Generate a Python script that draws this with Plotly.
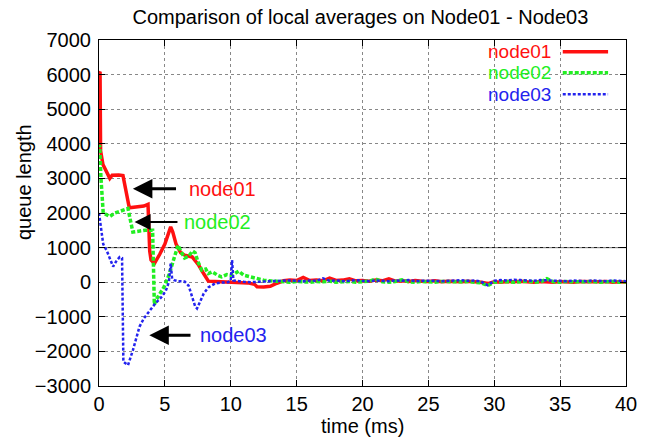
import plotly.graph_objects as go

# ---- data: local queue-length averages (time in ms) ----
node01_t = [0.0, 0.08, 0.12, 0.3, 0.82, 1.0, 1.5, 1.82, 2.3, 2.8, 3.4, 3.72, 3.85, 3.95,
            4.2, 4.6, 5.0, 5.44, 5.6, 5.85, 6.2, 6.5, 7.07, 7.3, 7.57, 7.94, 8.3, 8.8,
            9.3, 9.8, 10.3, 10.8, 11.3, 11.8, 12.0]
node01_q = [6050, 6080, 3800, 3400, 3000, 3090, 3100, 3080, 2150, 2180, 2200, 2250, 900, 640,
            540, 800, 1100, 1600, 1450, 1100, 850, 780, 730, 620, 490, 250, 30, 20,
            10, 0, 10, 0, -20, -60, -130]

node02_t = [0.0, 0.05, 0.15, 0.32, 0.82, 1.2, 1.6, 2.0, 2.2, 2.57, 3.0, 3.5, 4.07, 4.1,
            4.2, 4.32, 4.94, 5.3, 5.7, 6.0, 6.2, 6.5, 6.8, 7.1, 7.3, 7.5, 7.8, 8.1,
            8.3, 8.6, 9.0, 9.3, 9.7, 10.0, 10.3, 10.6, 11.0, 11.5, 11.9, 12.3]
node02_q = [3900, 3960, 3000, 2000, 1900, 2000, 2050, 2100, 2130, 1450, 1480, 1500, 1500, 800,
            -650, -520, -135, 200, 700, 1070, 900, 700, 750, 900, 850, 600, 350, 380,
            250, 300, 200, 155, 220, 200, 250, 320, 200, 150, 100, 60]

node03_t = [0.0, 0.05, 0.15, 0.32, 0.6, 0.9, 1.07, 1.3, 1.57, 1.75, 1.85, 2.2, 2.57, 3.07,
            3.4, 3.7, 4.0, 4.3, 4.7, 5.07, 5.3, 5.44, 5.55, 5.7, 6.0, 6.5, 6.8, 7.07,
            7.3, 7.44, 7.7, 7.95, 8.3, 8.8, 9.3, 9.8, 10.0, 10.1, 10.2, 10.6, 11.0, 11.5, 12.0]
node03_q = [2000, 1850, 1500, 1100, 900, 600, 450, 600, 730, 700, -2300, -2400, -1970, -1290,
            -1050, -900, -750, -600, -450, -250, 0, 540, 100, 60, 30, 20, -100, -424,
            -700, -760, -550, -327, -150, -40, -10, 0, 50, 640, 50, 20, 10, 0, 20]

# steady-state samples shared by all three nodes
tail_t = [12.5, 13.0, 13.5, 14.0, 14.5, 15.0, 15.5, 16.0, 16.5, 17.0, 17.5, 18.0, 18.5, 19.0,
          19.5, 20.0, 20.5, 21.0, 21.5, 22.0, 22.5, 23.0, 23.5, 24.0, 24.5, 25.0, 25.5, 26.0,
          26.5, 27.0, 27.5, 28.0, 28.5, 29.0, 29.5, 30.0, 30.5, 31.0, 31.5, 32.0, 32.5, 33.0,
          33.5, 34.0, 34.5, 35.0, 35.5, 36.0, 36.5, 37.0, 37.5, 38.0, 38.5, 39.0, 39.5, 40.0]
node01_tail = [-140, -120, -30, 40, 60, 50, 140, 50, 60, 40, 120, 50, 60, 100,
               40, 50, 30, 60, 40, 100, 30, 40, 20, 50, 30, 20, 40, 10,
               30, 20, 10, 30, 20, 0, -40, 10, 0, 20, 10, 30, 10, 0,
               20, 10, 0, 20, 10, 0, 20, 10, 0, 10, 20, 0, 10, 0]
node02_tail = [60, 40, 20, 10, 0, 20, 10, 0, 20, 10, 30, 0, 10, 20,
               0, 10, 30, 90, 10, 0, 20, 70, 10, 0, 20, 10, 0, 20,
               10, 0, 10, 20, 0, -20, -100, 0, 10, 20, 0, 10, 30, 10,
               0, 100, 10, 0, 20, 10, 0, 10, 20, 0, 10, 20, 0, 10]
node03_tail = [20, 30, 40, 30, 50, 40, 30, 50, 40, 110, 40, 50, 30, 40,
               60, 40, 30, 50, 40, 30, 50, 40, 60, 30, 40, 50, 40, 30,
               40, 50, 60, 40, 50, 20, -90, 40, 60, 50, 70, 60, 50, 40,
               60, 50, 40, 50, 30, 50, 40, 30, 50, 40, 30, 50, 40, 30]

series_names = ["node01", "node02", "node03"]
series_colors = ["#ff1010", "#22ee22", "#2323ee"]
threshold_q = 1000

x_ticks = [0, 5, 10, 15, 20, 25, 30, 35, 40]
y_ticks = [-3000, -2000, -1000, 0, 1000, 2000, 3000, 4000, 5000, 6000, 7000]

FONT = "Liberation Sans, Arial, sans-serif"
FS = 20
KEY_FS = 19

fig = go.Figure()
styles = [dict(width=3.5, dash="solid"),
          dict(width=3.5, dash="4px,2px"),
          dict(width=2.5, dash="3px,2px")]
all_t = [node01_t + tail_t, node02_t + tail_t, node03_t + tail_t]
all_q = [node01_q + node01_tail, node02_q + node02_tail, node03_q + node03_tail]
for name, color, st, t, q in zip(series_names, series_colors, styles, all_t, all_q):
    fig.add_trace(go.Scatter(x=t, y=q, mode="lines", name=name,
                             line=dict(color=color, width=st["width"], dash=st["dash"]),
                             showlegend=False))

# solid reference level
fig.add_hline(y=threshold_q, line=dict(color="black", width=1), layer="below")

# key in the upper right: text then line sample
key_y = [0.966, 0.905, 0.843]
for name, color, st, ky in zip(series_names, series_colors, styles, key_y):
    fig.add_annotation(xref="paper", yref="paper", x=0.862, y=ky, text=name,
                       showarrow=False, xanchor="right", yanchor="middle",
                       font=dict(family=FONT, size=KEY_FS, color=color))
    fig.add_shape(type="line", xref="paper", yref="paper", x0=0.880, x1=0.966,
                  y0=ky, y1=ky, line=dict(color=color, width=st["width"], dash=st["dash"]))

# arrow call-outs: (head_t, head_q, tail_t, text_t, text_q, width)
callouts = [(2.57, 2700, 5.96, 6.65, 2700, 3),
            (2.70, 1740, 6.07, 6.28, 1740, 2),
            (3.82, -1530, 7.06, 7.55, -1530, 3)]
for name, color, (ht, hq, tt, xt, xq, w) in zip(series_names, series_colors, callouts):
    fig.add_annotation(x=ht, y=hq, ax=tt, ay=hq, xref="x", yref="y", axref="x", ayref="y",
                       text="", showarrow=True, arrowhead=2, arrowsize=1.3 if w == 3 else 1.6,
                       arrowwidth=w, arrowcolor="black")
    fig.add_annotation(x=xt, y=xq, xref="x", yref="y", text=name, showarrow=False,
                       xanchor="left", yanchor="middle",
                       font=dict(family=FONT, size=FS, color=color))

# axis titles
fig.add_annotation(xref="paper", yref="paper", x=0.5, y=-0.116, text="time (ms)",
                   showarrow=False, xanchor="center", yanchor="middle",
                   font=dict(family=FONT, size=FS, color="black"))
fig.add_annotation(xref="paper", yref="paper", x=-0.142, y=0.59, text="queue length",
                   showarrow=False, textangle=-90, xanchor="center", yanchor="middle",
                   font=dict(family=FONT, size=FS, color="black"))

axis_common = dict(showline=True, linecolor="black", linewidth=1, mirror="allticks",
                   ticks="inside", ticklen=6, tickcolor="black", tickwidth=1,
                   showgrid=True, gridcolor="#888888", gridwidth=1, griddash="dot",
                   zeroline=False,
                   tickfont=dict(family=FONT, size=FS, color="black"))
fig.update_xaxes(range=[0, 40], tickvals=x_ticks, ticklabelstandoff=0, **axis_common)
fig.update_yaxes(range=[-3000, 7000], tickvals=y_ticks, ticklabelstandoff=3, **axis_common)

fig.update_layout(
    width=649, height=443,
    margin=dict(l=99, r=16, t=40, b=57),
    paper_bgcolor="white", plot_bgcolor="white",
    title=dict(text="Comparison of local averages on Node01 - Node03",
               x=0.496, xref="paper", y=0.962, yref="container",
               xanchor="center", yanchor="middle",
               font=dict(family=FONT, size=FS, color="black")),
)

fig.write_html("out.html")
